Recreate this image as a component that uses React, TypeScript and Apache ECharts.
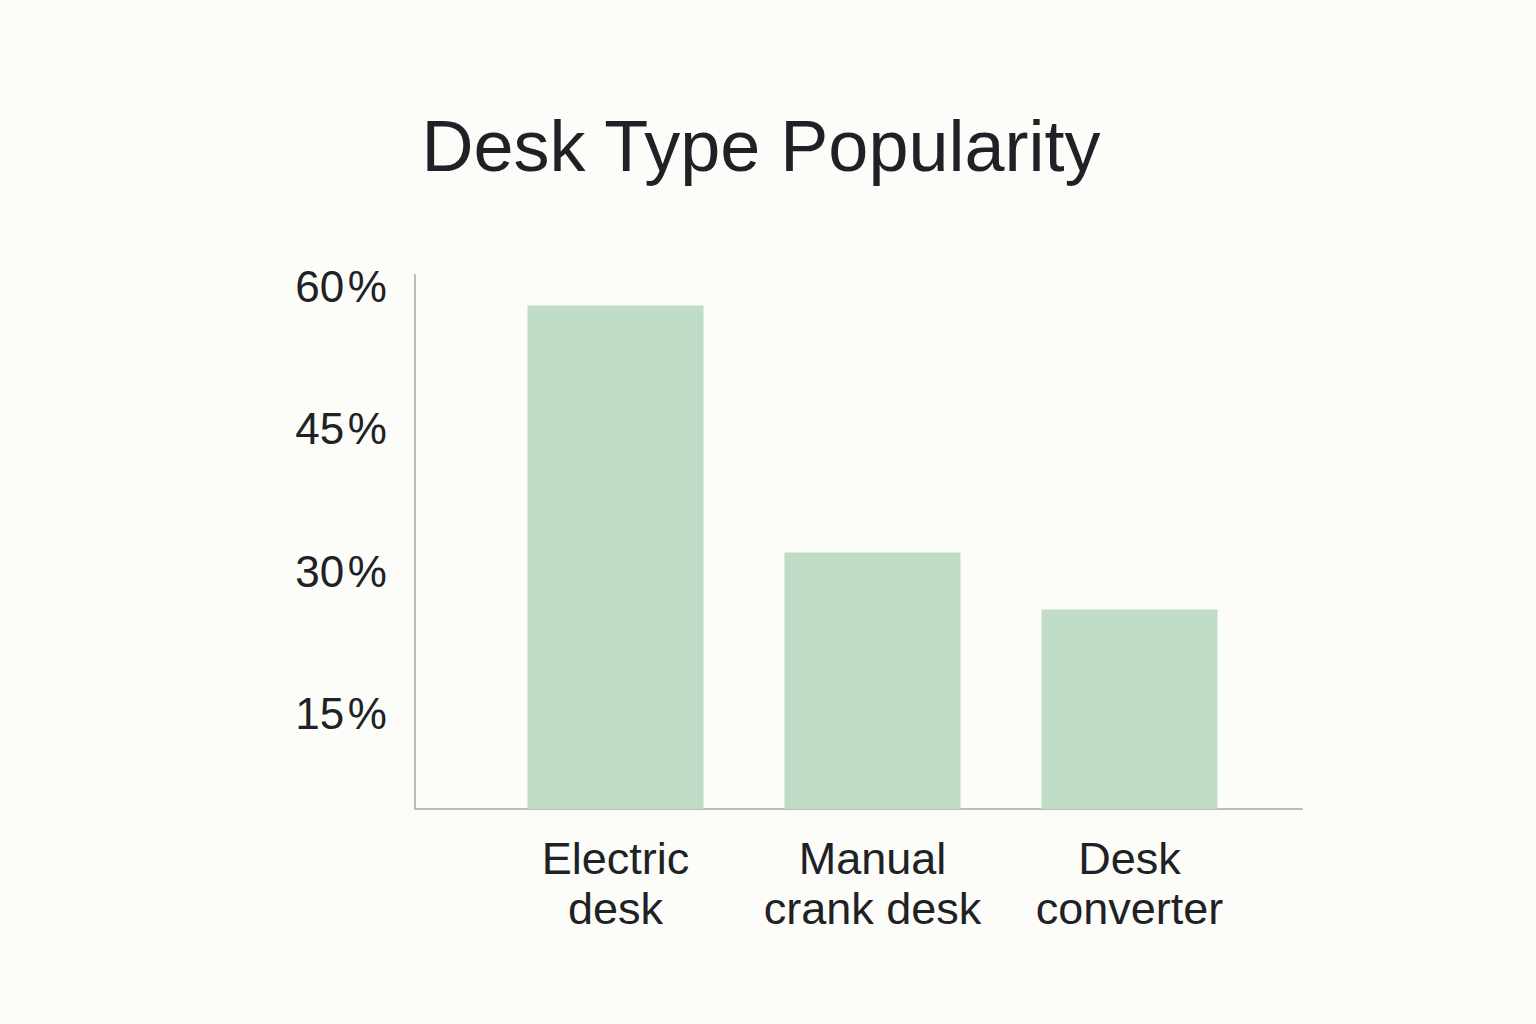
import React, { useEffect, useRef } from 'react';
import * as echarts from 'echarts';

// data
const categories = ['Electric\ndesk', 'Manual\ncrank desk', 'Desk\nconverter'];
const shares = [58, 32, 26];
const tickLabels = [15, 30, 45, 60];

const FONT = "'Liberation Sans', Arial, sans-serif";
const TEXT = '#1e2226';
const AXIS = '#bcbcbc';
const BAR = '#bfdcc7';

const App: React.FC = () => {
  const chartRef = useRef<HTMLDivElement>(null);

  useEffect(() => {
    if (!chartRef.current) return;
    const chart = echarts.init(chartRef.current, undefined, { renderer: 'svg' });

    const option = {
      animation: false,
      backgroundColor: '#fcfcf8',
      textStyle: { fontFamily: FONT },
      title: {
        text: 'Desk Type Popularity',
        left: 756,
        top: 105,
        textAlign: 'center',
        textStyle: { fontSize: 72, fontWeight: 'normal', color: TEXT, fontFamily: FONT }
      },
      grid: [
        // frame with the axis lines
        { left: 415, top: 275, width: 887, height: 534 },
        // bars
        { left: 487, top: 275, width: 771, height: 534 }
      ],
      xAxis: [
        {
          type: 'value',
          gridIndex: 0,
          min: 0,
          max: 1,
          axisLine: { show: true, onZero: false, lineStyle: { color: AXIS, width: 2 } },
          axisTick: { show: false },
          axisLabel: { show: false },
          splitLine: { show: false }
        },
        {
          type: 'category',
          gridIndex: 1,
          data: categories,
          axisLine: { show: false },
          axisTick: { show: false },
          splitLine: { show: false },
          axisLabel: {
            margin: 24,
            fontSize: 45,
            lineHeight: 50,
            color: TEXT,
            fontFamily: FONT,
            interval: 0
          }
        }
      ],
      yAxis: [
        {
          type: 'value',
          gridIndex: 0,
          min: 5,
          max: 61.2,
          interval: 5,
          axisLine: { show: true, onZero: false, lineStyle: { color: AXIS, width: 2 } },
          axisTick: { show: false },
          splitLine: { show: false },
          axisLabel: {
            margin: 28,
            fontSize: 44,
            color: TEXT,
            fontFamily: FONT,
            showMaxLabel: false,
            formatter: (v: number) => (tickLabels.includes(v) ? v + '\u200a%' : '')
          }
        },
        {
          type: 'value',
          gridIndex: 1,
          min: 5,
          max: 61.2,
          show: false
        }
      ],
      series: [
        {
          type: 'bar',
          xAxisIndex: 1,
          yAxisIndex: 1,
          data: shares,
          barWidth: 176,
          itemStyle: { color: BAR }
        }
      ]
    };

    chart.setOption(option);
    return () => {
      chart.dispose();
    };
  }, []);

  return (
    <div
      ref={chartRef}
      style={{ position: 'fixed', left: 0, top: 0, width: 1536, height: 1024, background: '#fcfcf8' }}
    />
  );
};

export default App;
